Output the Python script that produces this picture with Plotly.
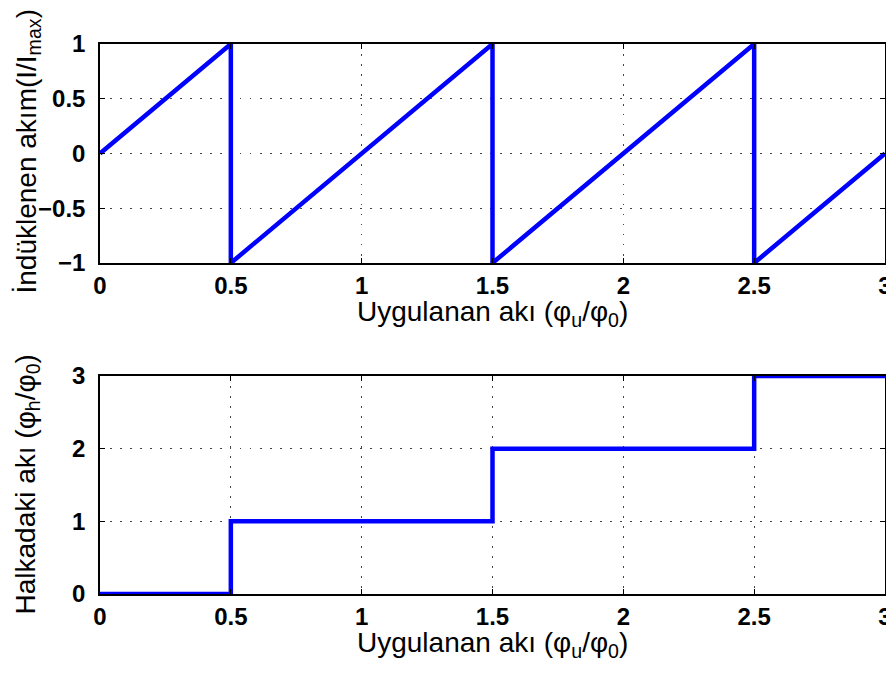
import plotly.graph_objects as go

# Top: induced current (sawtooth)
x_top = [0, 0.5, 0.5, 1.5, 1.5, 2.5, 2.5, 3]
y_top = [0, 1, -1, 1, -1, 1, -1, 0]
# Bottom: flux in ring (staircase)
x_bot = [0, 0.5, 0.5, 1.5, 1.5, 2.5, 2.5, 3]
y_bot = [0, 0, 1, 1, 2, 2, 3, 3]

x_ticks = [0, 0.5, 1, 1.5, 2, 2.5, 3]
x_ticklabels = ["0", "0.5", "1", "1.5", "2", "2.5", "3"]
y_top_ticks = [-1, -0.5, 0, 0.5, 1]
y_top_labels = ["\u22121", "\u22120.5", "0", "0.5", "1"]
y_bot_ticks = [0, 1, 2, 3]
y_bot_labels = ["0", "1", "2", "3"]

x_title = "Uygulanan akı (φ<sub>u</sub>/φ<sub>0</sub>)"
y_top_title = "İndüklenen akım(I/I<sub>max</sub>)"
y_bot_title = "Halkadaki akı (φ<sub>h</sub>/φ<sub>0</sub>)"

OFF = 8  # page body margin in the browser
W, H = 894 - OFF, 674 - 2 * OFF
L, T = 100 - OFF, 44 - OFF
R = W - (885 - OFF)
B = H - (594 - OFF)
PW, PH = W - L - R, H - T - B

def px_x(p):  # screen pixel -> paper
    return (p - OFF - L) / PW

def px_y(p):
    return (H - B - (p - OFF)) / PH

fig = go.Figure()

line = dict(color="#0000FF", width=4.5)
fig.add_trace(go.Scatter(x=x_top, y=y_top, mode="lines", line=line,
                         xaxis="x", yaxis="y", cliponaxis=False, showlegend=False))
fig.add_trace(go.Scatter(x=x_bot, y=y_bot, mode="lines", line=line,
                         xaxis="x2", yaxis="y2", cliponaxis=False, showlegend=False))

FONT = "Liberation Sans, Arial, Helvetica, sans-serif"
tickfont = dict(family=FONT, size=24, color="black", weight="bold")
titlefont = dict(family=FONT, size=28, color="black")
GRID = dict(showgrid=True, gridcolor="#444444", griddash="1.5px,8.5px", gridwidth=1.2)

def xax(anchor):
    return dict(range=[0, 3], tickvals=x_ticks, ticktext=x_ticklabels,
                anchor=anchor, domain=[0, 1], showline=True, linecolor="black",
                linewidth=1.5, mirror="ticks", ticks="inside", ticklen=5,
                tickcolor="black", zeroline=False, tickfont=tickfont,
                automargin=False, ticklabelstandoff=0, ticklabeloverflow="allow",
                **GRID)

def yax(anchor, rng, tv, tt, dom):
    return dict(range=rng, tickvals=tv, ticktext=tt, anchor=anchor, domain=dom,
                showline=True, linecolor="black", linewidth=1.5, mirror="ticks",
                ticks="inside", ticklen=5, tickcolor="black", zeroline=False,
                tickfont=tickfont, automargin=False, ticklabelstandoff=8,
                ticklabeloverflow="allow", **GRID)

dom_top = [px_y(263), 1]
dom_bot = [0, px_y(376)]

annots = [
    dict(text=x_title, x=px_x(492), y=px_y(294), xref="paper", yref="paper",
         xanchor="center", yanchor="top", showarrow=False, font=titlefont),
    dict(text=x_title, x=px_x(492), y=px_y(625), xref="paper", yref="paper",
         xanchor="center", yanchor="top", showarrow=False, font=titlefont),
    dict(text=y_top_title, x=px_x(8), y=px_y(152), xref="paper", yref="paper",
         xanchor="left", yanchor="middle", textangle=-90, showarrow=False, font=titlefont),
    dict(text=y_bot_title, x=px_x(8), y=px_y(485), xref="paper", yref="paper",
         xanchor="left", yanchor="middle", textangle=-90, showarrow=False, font=titlefont),
]

fig.update_layout(
    width=W, height=H,
    margin=dict(l=L, r=R, t=T, b=B),
    paper_bgcolor="white", plot_bgcolor="white",
    xaxis=xax("y"),
    yaxis=yax("x", [-1, 1], y_top_ticks, y_top_labels, dom_top),
    xaxis2=xax("y2"),
    yaxis2=yax("x2", [0, 3], y_bot_ticks, y_bot_labels, dom_bot),
    annotations=annots,
)

fig.write_html("out.html")
